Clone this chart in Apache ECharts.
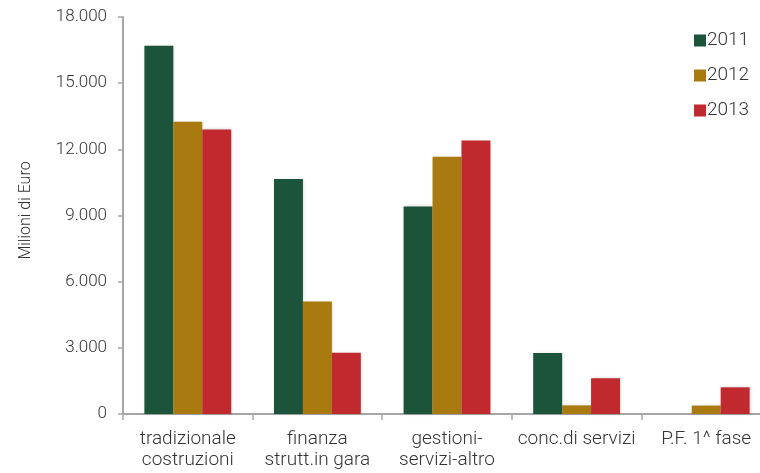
<!DOCTYPE html>
<html>
<head>
<meta charset="utf-8">
<script src="https://cdn.jsdelivr.net/npm/echarts@6/dist/echarts.min.js"></script>
<style>
  html, body { margin: 0; padding: 0; background: #ffffff; overflow: hidden; }
  #chart { width: 780px; height: 473px; }
</style>
</head>
<body>
<div id="chart"></div>
<script>
// Categories of public works (million euro)
const categories = [
  'tradizionale\ncostruzioni',
  'finanza\nstrutt.in gara',
  'gestioni-\nservizi-altro',
  'conc.di servizi',
  'P.F. 1^ fase'
];
const years = ['2011', '2012', '2013'];
const values2011 = [16700, 10660, 9410, 2770, 0];
const values2012 = [13250, 5100, 11660, 390, 380];
const values2013 = [12900, 2780, 12400, 1620, 1210];
const yTicks = { min: 0, max: 18000, interval: 3000 };

const colors = ['#1b533b', '#a97a10', '#c0292e'];
const font = 'Roboto, "Liberation Sans", sans-serif';

function fmt(v) {
  return String(v).replace(/\B(?=(\d{3})+(?!\d))/g, '.');
}

const chart = echarts.init(document.getElementById('chart'));
const seriesData = [values2011, values2012, values2013];

chart.setOption({
  animation: false,
  color: colors,
  // the last category runs slightly past the visible page edge
  grid: { left: 123, width: 648, top: 17, bottom: 59, containLabel: false },
  legend: {
    orient: 'vertical',
    left: 689,
    top: 26,
    itemWidth: 12,
    itemHeight: 12,
    itemGap: 16,
    icon: 'rect',
    textStyle: { fontFamily: font, fontSize: 19, color: '#333', fontWeight: 300, padding: [0, 0, 0, -4] },
    data: years
  },
  xAxis: {
    type: 'category',
    data: categories,
    axisLine: { lineStyle: { color: '#a6a6a6', width: 2 } },
    axisTick: { show: true, length: 6, lineStyle: { color: '#a6a6a6', width: 1.5 } },
    axisLabel: {
      fontFamily: font, fontSize: 19, color: '#333', fontWeight: 300,
      margin: 15, lineHeight: 21, interval: 0
    }
  },
  yAxis: {
    type: 'value',
    min: yTicks.min, max: yTicks.max, interval: yTicks.interval,
    name: 'Milioni di Euro',
    nameLocation: 'middle',
    nameGap: 89,
    nameTextStyle: {
      fontFamily: font, fontSize: 16, color: '#333', fontWeight: 300,
      padding: [0, 0, 0, 10]
    },
    axisLine: { show: true, lineStyle: { color: '#a6a6a6', width: 2 } },
    axisTick: { show: true, length: 5, lineStyle: { color: '#a6a6a6', width: 1.5 } },
    splitLine: { show: false },
    axisLabel: {
      fontFamily: font, fontSize: 17, color: '#333', fontWeight: 300,
      margin: 16, formatter: fmt
    }
  },
  series: years.map((y, i) => ({
    name: y,
    type: 'bar',
    data: seriesData[i],
    barGap: '0%',
    barCategoryGap: '33%',
    itemStyle: {
      shadowColor: 'rgba(0,0,0,0.18)',
      shadowBlur: 3,
      shadowOffsetX: 1,
      shadowOffsetY: 0
    }
  }))
});
</script>
</body>
</html>
